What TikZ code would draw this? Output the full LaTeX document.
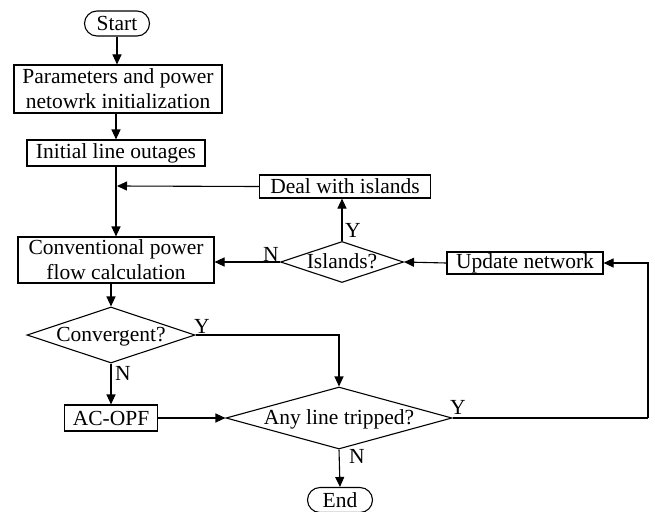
\documentclass[tikz,border=0pt]{standalone}
\usepackage{fontspec}
\setmainfont{Liberation Serif}
\usetikzlibrary{arrows.meta,shapes.geometric,shapes.misc}
\newcommand{\dtext}[1]{\makebox[0pt][c]{\raisebox{-0.32em}[0pt][0pt]{#1}}}
\begin{document}
\begin{tikzpicture}[x=1pt,y=-1pt,
  every node/.style={font=\fontsize{21.5}{25}\selectfont, inner sep=0pt},
  procbox/.style={draw, line width=1.1pt, rectangle, align=center},
  termbox/.style={draw, line width=1.1pt, rounded rectangle, minimum width=65pt, minimum height=25pt},
  decbox/.style={draw, line width=1.1pt, diamond, inner sep=0pt},
  arr/.style={line width=1.1pt, -{Triangle[length=10pt,width=9pt]}},
  ln/.style={line width=1.1pt},
  lbl/.style={font=\fontsize{21.5}{25}\selectfont}]
\useasboundingbox (0,0) rectangle (655,511);
\fill[white] (0,0) rectangle (655,511);

\node[termbox] (start) at (117,23.5) {Start};
\node[procbox, minimum width=208pt, minimum height=48pt] (par) at (118,89) {Parameters and power\\netowrk initialization};
\node[procbox, minimum width=178pt, minimum height=26pt] (out) at (116,153) {Initial line outages};
\node[procbox, minimum width=171pt, minimum height=23pt] (deal) at (345,186.5) {Deal with islands};
\node[procbox, minimum width=196pt, minimum height=46pt] (conv) at (116,260) {Conventional power\\flow calculation};
\node[decbox, minimum width=123pt, minimum height=41pt] (isl) at (342,262) {\dtext{Islands?}};
\node[procbox, minimum width=156pt, minimum height=22pt] (upd) at (525,263) {Update network};
\node[decbox, minimum width=168pt, minimum height=56pt] (cvg) at (111,335) {\dtext{Convergent?}};
\node[procbox, minimum width=93pt, minimum height=26pt] (ac) at (111,418) {AC-OPF};
\node[decbox, minimum width=226pt, minimum height=62pt] (any) at (339,418) {\dtext{Any line tripped?}};
\node[termbox] (end) at (340,500) {End};

\coordinate (j) at (117,186);
\coordinate (rc) at (648,418);

\draw[arr] (start.south) -- (start.south |- par.north);
\draw[arr] (par.south -| out.north) -- (out.north);
\draw[arr] (out.south) -- (conv.north);
\draw[arr] (deal.west) -- (j);
\draw[arr] (isl.north) -- (isl.north |- deal.south);
\draw[arr] (isl.west) -- (isl.west -| conv.east);
\draw[arr] (upd.west) -- (isl.east);
\draw[arr] (cvg.north |- conv.south) -- (cvg.north);
\draw[arr] (cvg.south) -- (ac.north);
\draw[arr] (cvg.east) -| (any.north);
\draw[arr] (ac.east) -- (any.west);
\draw[arr] (any.south) -- (end.north);
\draw[ln] (any.east) -- (rc);
\draw[arr] (rc) |- (upd.east);

\node[lbl] at (353,230) {Y};
\node[lbl] at (271,254) {N};
\node[lbl] at (202,326) {Y};
\node[lbl] at (123,373) {N};
\node[lbl] at (458,407) {Y};
\node[lbl] at (357,456) {N};
\end{tikzpicture}
\end{document}
